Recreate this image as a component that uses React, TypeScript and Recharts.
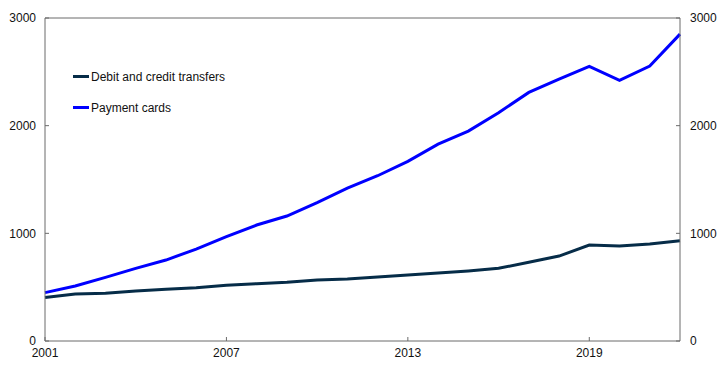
import { Line, LineChart, ReferenceLine, XAxis, YAxis } from "recharts";

const years = [
  2001, 2002, 2003, 2004, 2005, 2006, 2007, 2008, 2009, 2010, 2011,
  2012, 2013, 2014, 2015, 2016, 2017, 2018, 2019, 2020, 2021, 2022,
];

const transfers = [
  405, 436, 443, 464, 480, 495, 517, 532, 545, 566, 576,
  594, 613, 631, 650, 675, 731, 789, 891, 882, 900, 931,
];

const cards = [
  449, 511, 591, 675, 752, 854, 969, 1077, 1161, 1285, 1420,
  1535, 1668, 1829, 1950, 2120, 2309, 2433, 2551, 2421, 2553, 2850,
];

const xTicks = [2001, 2007, 2013, 2019];
const yTicks = [0, 1000, 2000, 3000];

const series = [
  { key: "transfers", name: "Debit and credit transfers", color: "#062c48", axis: "left" },
  { key: "cards", name: "Payment cards", color: "#0000ff", axis: "right" },
];

const data = years.map((year, i) => ({
  year,
  transfers: transfers[i],
  cards: cards[i],
}));

const axisColor = "#6b6b6b";
const font = "Liberation Sans, Arial, sans-serif";
const tickStyle = { fill: "#111", fontSize: 12, fontFamily: font };

function LegendBox() {
  return (
    <div style={{ position: "absolute", left: 73, top: 61, fontFamily: font, fontSize: 12, color: "#111" }}>
      {series.map((s) => (
        <div key={s.key} style={{ display: "flex", alignItems: "center", height: 31 }}>
          <span
            style={{ display: "inline-block", width: 16, height: 3, background: s.color, marginRight: 2 }}
          />
          <span>{s.name}</span>
        </div>
      ))}
    </div>
  );
}

export default function App() {
  return (
    <div style={{ position: "fixed", left: 0, top: 0, width: 722, height: 372, background: "#fff" }}>
      <LineChart width={722} height={372} data={data} margin={{ top: 18, right: 0, left: 0, bottom: 0 }}>
        <XAxis
          dataKey="year"
          type="number"
          domain={[2001, 2022]}
          ticks={xTicks}
          interval={0}
          height={31}
          stroke={axisColor}
          tickSize={-4}
          tickMargin={11}
          tick={tickStyle}
        />
        <YAxis
          yAxisId="left"
          domain={[0, 3000]}
          ticks={yTicks}
          interval={0}
          width={45}
          stroke={axisColor}
          tickSize={-4}
          tickMargin={13}
          tick={tickStyle}
        />
        <YAxis
          yAxisId="right"
          orientation="right"
          domain={[0, 3000]}
          ticks={yTicks}
          interval={0}
          width={42}
          stroke={axisColor}
          tickSize={-4}
          tickMargin={14}
          tick={tickStyle}
        />
        <ReferenceLine yAxisId="left" y={3000} stroke={axisColor} />
        {series.map((s) => (
          <Line
            key={s.key}
            yAxisId={s.axis}
            type="linear"
            dataKey={s.key}
            name={s.name}
            stroke={s.color}
            strokeWidth={3}
            dot={false}
            isAnimationActive={false}
          />
        ))}
      </LineChart>
      <LegendBox />
    </div>
  );
}
